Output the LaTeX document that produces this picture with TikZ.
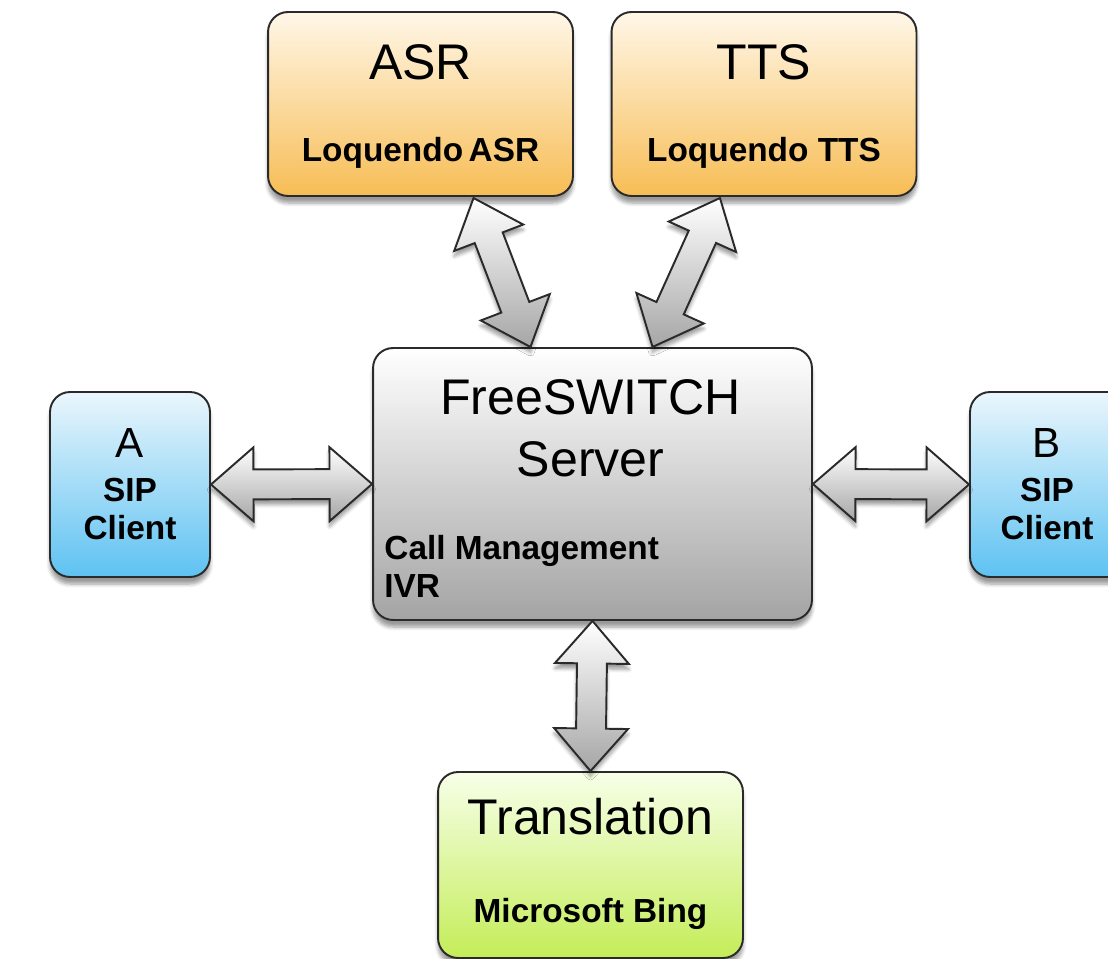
\documentclass[tikz,border=0pt]{standalone}
\usepackage{fontspec}
\setmainfont{Liberation Sans}
\usepackage{tikz}
\usetikzlibrary{positioning, calc, shapes.arrows, shadows.blur}

\definecolor{asrtop}{HTML}{FFF7E8}
\definecolor{asrbot}{HTML}{F7BD55}
\definecolor{clitop}{HTML}{EAF6FC}
\definecolor{clibot}{HTML}{5EC2F2}
\definecolor{srvtop}{HTML}{FFFFFF}
\definecolor{srvbot}{HTML}{A4A4A4}
\definecolor{trtop}{HTML}{F7FFE8}
\definecolor{trbot}{HTML}{C4ED58}
\definecolor{edge}{HTML}{2A2A2A}

\tikzset{
    box/.style={rounded corners=0.4cm, draw=edge, line width=1.1pt, inner sep=0pt,
                blur shadow={shadow xshift=0pt, shadow yshift=-4pt, shadow blur steps=6}},
    enginebox/.style={box, top color=asrtop, bottom color=asrbot, minimum width=6.1cm, minimum height=3.68cm},
    clientbox/.style={box, top color=clitop, bottom color=clibot, minimum width=3.2cm, minimum height=3.7cm},
    serverbox/.style={box, top color=srvtop, bottom color=srvbot, minimum width=8.78cm, minimum height=5.44cm},
    transbox/.style={box, top color=trtop, bottom color=trbot, minimum width=6.1cm, minimum height=3.72cm},
    bigtxt/.style={anchor=base, inner sep=0pt, font=\fontsize{28.5}{30}\selectfont},
    midtxt/.style={anchor=base, inner sep=0pt, font=\fontsize{24}{26}\selectfont},
    subtxt/.style={anchor=base, inner sep=0pt, font=\bfseries\fontsize{19}{21}\selectfont},
    fatarrow/.style={double arrow, draw=edge, line width=1.1pt, inner xsep=0pt, inner ysep=0.28cm,
                     top color=white, bottom color=black!35,
                     double arrow head extend=0.44cm, double arrow tip angle=82,
                     blur shadow={shadow xshift=0pt, shadow yshift=-3pt, shadow blur steps=5}},
    fatlink/.style={to path={let \p1=(\tikztostart), \p2=(\tikztotarget),
                     \n1={atan2(\y2-\y1,\x2-\x1)}, \n2={veclen(\x2-\x1,\y2-\y1)} in
                     node[fatarrow, rotate=\n1, minimum height=\n2] at ($(\p1)!0.5!(\p2)$) {}}}
}

\begin{document}
\begin{tikzpicture}[x=0.02cm, y=-0.02cm]

    \useasboundingbox (0,0) rectangle (1108,959);

    % Speech engines at the top
    \node[enginebox] (asr) at (420.5,104) {};
    \node[enginebox] (tts) at (764,104) {};

    % Central server
    \node[serverbox] (srv) at (592.5,484) {};

    % SIP clients left and right
    \node[clientbox] (cla) at (130,484.5) {};
    \node[clientbox] (clb) at (1050,484.5) {};

    % Translation service at the bottom
    \node[transbox] (tr) at (590.5,865) {};

    % Texts inside the boxes
    \node[bigtxt] (asrname) at ($(asr.north)+(0,68)$) {ASR};
    \node[subtxt] (asrsub) at ($(asr.north)+(0,150)$) {Loquendo\,ASR};
    \node[bigtxt] (ttsname) at ($(tts.north)+(0,68)$) {TTS};
    \node[subtxt] (ttssub) at ($(tts.north)+(0,150)$) {Loquendo TTS};

    \node[bigtxt] (srvname) at ($(srv.north)+(-2,67)$) {FreeSWITCH};
    \node[bigtxt] (srvname2) at ($(srv.north)+(-2,129)$) {Server};
    \node[subtxt, anchor=base west] (srvcm) at ($(srv.north west)+(12,212)$) {Call Management};
    \node[subtxt, anchor=base west] (srvivr) at ($(srv.north west)+(12,250)$) {IVR};

    \node[midtxt] (claname) at ($(cla.north)+(0,66)$) {A};
    \node[subtxt] (clasip) at ($(cla.north)+(0,110)$) {SIP};
    \node[subtxt] (clacl) at ($(cla.north)+(0,148)$) {Client};
    \node[midtxt] (clbname) at ($(clb.north)+(-3,66)$) {B};
    \node[subtxt] (clbsip) at ($(clb.north)+(-3,110)$) {SIP};
    \node[subtxt] (clbcl) at ($(clb.north)+(-3,148)$) {Client};

    \node[bigtxt] (trname) at ($(tr.north)+(0,63)$) {Translation};
    \node[subtxt] (trsub) at ($(tr.north)+(0,151)$) {Microsoft Bing};

    % Arrow ends on the top edge of the server
    \coordinate (asrfoot) at ($(asr.south)+(53,1)$);
    \coordinate (srvasr) at ($(srv.north)+(-62,0)$);
    \coordinate (ttsfoot) at ($(tts.south)+(-44,1)$);
    \coordinate (srvtts) at ($(srv.north)+(60,0)$);

    % Fat double arrows (light side on the left)
    \path (cla.east) to[fatlink] (srv.west);
    \path (srv.east) to[fatlink] (clb.west);
    \path (tr.north) to[fatlink] (srv.south);
    \path (srvasr) to[fatlink] (asrfoot);
    \path (srvtts) to[fatlink] (ttsfoot);

\end{tikzpicture}
\end{document}
